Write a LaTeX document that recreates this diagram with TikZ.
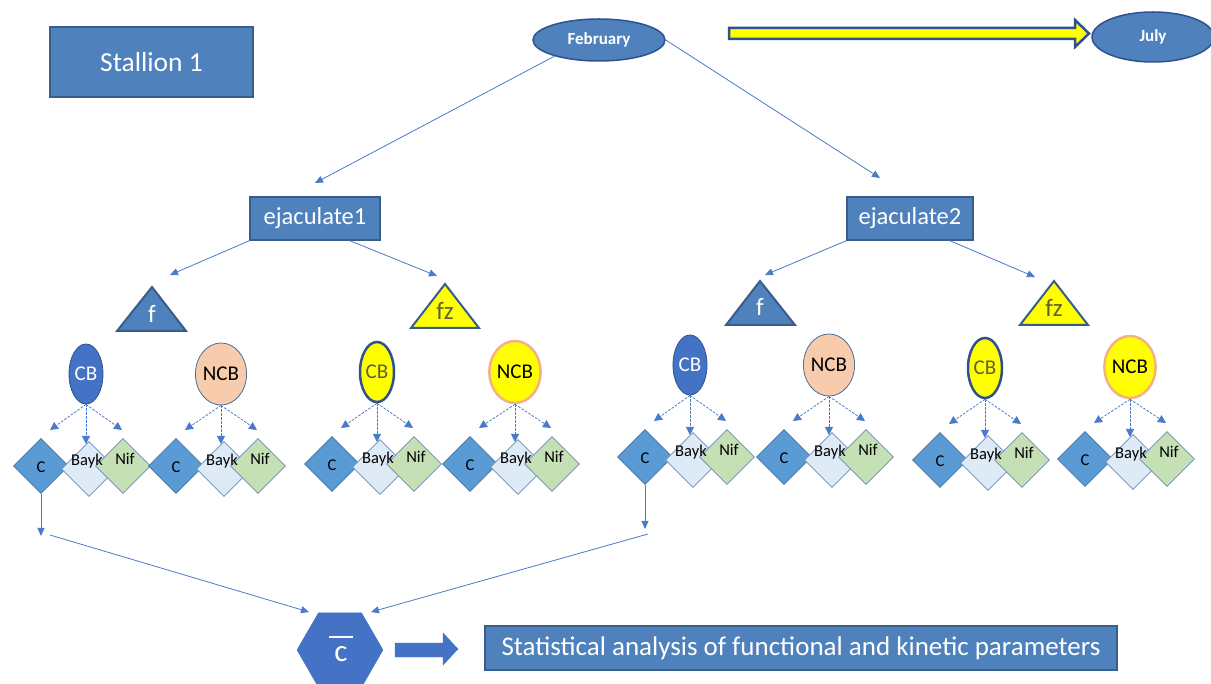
\documentclass[tikz,border=0pt]{standalone}
\usepackage{fontspec}
\setmainfont{Carlito}
\usetikzlibrary{shapes.geometric,arrows.meta}
\definecolor{boxblue}{HTML}{4F81BD}
\definecolor{boxborder}{HTML}{385D8A}
\definecolor{darkblue}{HTML}{2F528F}
\definecolor{cbblue}{HTML}{4472C4}
\definecolor{linecol}{HTML}{4A7BC8}
\definecolor{peach}{HTML}{F8CBAD}
\definecolor{peachline}{HTML}{F4B183}
\definecolor{cdia}{HTML}{5B9BD5}
\definecolor{cdialine}{HTML}{41719C}
\definecolor{bdia}{HTML}{DEEBF7}
\definecolor{ndia}{HTML}{C5E0B4}
\definecolor{dialine}{HTML}{6A8BB8}
\definecolor{olivetext}{HTML}{5F5F3A}
\definecolor{yel}{HTML}{FFFF00}
\begin{document}
\begin{tikzpicture}[x=1pt,y=-1pt,
  bigbox/.style={draw=boxborder,line width=1.5pt,fill=boxblue,text=white,inner sep=0pt},
  month/.style={ellipse,draw=darkblue,line width=1.5pt,fill=boxblue,text=white,font=\fontsize{17}{18}\selectfont\bfseries,minimum width=132pt,minimum height=42pt,inner sep=0pt},
  conn/.style={draw=linecol,line width=0.8pt,-{Triangle[length=8pt,width=7pt]}},
  dasharr/.style={draw=linecol,line width=0.8pt,dashed,dash pattern=on 2.5pt off 1.5pt,-{Triangle[length=8pt,width=8pt]}},
  ell/.style={ellipse,minimum width=34pt,minimum height=60pt,inner sep=0pt,font=\fontsize{21}{22}\selectfont},
  cb/.style={ell,fill=cbblue,draw=darkblue,line width=0.8pt,text=white},
  ncb/.style={ell,fill=peach,draw=cdialine,line width=0.8pt,text=black,minimum width=37pt,minimum height=62pt},
  ycb/.style={ell,fill=yel,draw=darkblue,line width=2.5pt,text=olivetext},
  yncb/.style={ell,fill=yel,draw=peachline,line width=2.5pt,text=black,minimum width=38pt,minimum height=62pt},
  dia/.style={diamond,aspect=1,minimum width=55pt,minimum height=55pt,inner sep=0pt,line width=0.8pt},
  dC/.style={dia,fill=cdia,draw=cdialine},
  dB/.style={dia,fill=bdia,draw=dialine},
  dN/.style={dia,fill=ndia,draw=dialine},
  dtext/.style={font=\fontsize{16.5}{17}\selectfont,text=black,inner sep=0pt},
  tri/.style={line width=2pt,draw=boxborder,line join=miter},
  tritext/.style={font=\fontsize{25}{26}\selectfont,inner sep=0pt}
]
\useasboundingbox[fill=white] (0,0) rectangle (1211,684);

% top boxes
\node[bigbox,minimum width=203pt,minimum height=70pt,font=\fontsize{27.5}{28}\selectfont] (stallion) at (151.5,62) {Stallion 1};
\node[month] (feb) at (599,40) {February};
\node[month,minimum width=122pt,minimum height=50pt] (jul) at (1153,37) {July};

% yellow block arrow
\draw[fill=yel,draw=darkblue,line width=2.5pt,line join=miter] (729,28) -- (1075,28) -- (1075,20) -- (1089,33.5) -- (1075,47) -- (1075,39) -- (729,39) -- cycle;

% ejaculate boxes
\node[bigbox,minimum width=130pt,minimum height=43pt,font=\fontsize{24.5}{25}\selectfont] (ej1) at (315,218.5) {ejaculate1};
\node[bigbox,minimum width=126pt,minimum height=43pt,font=\fontsize{24.5}{25}\selectfont] (ej2) at (910,218.5) {ejaculate2};

\coordinate (a1) at (315,183);
\coordinate (a2) at (880,178);
\draw[conn] (feb.200) -- (a1);
\draw[conn] (feb.east) -- (a2);

\coordinate (f1a) at (170,275);
\coordinate (f1b) at (437,276);
\coordinate (f2a) at (765,275);
\coordinate (f2b) at (1035,277);
\draw[conn] (ej1.south west) -- (f1a);
\draw[conn] ([xshift=35pt]ej1.south) -- (f1b);
\draw[conn] (ej2.south west) -- (f2a);
\draw[conn] ([xshift=40pt]ej2.south) -- (f2b);

% triangles
\draw[tri,fill=boxblue] (117,331) -- (152,287) -- (186,331) -- cycle;
\node[tritext,text=white] (tf1) at (152,314) {f};
\draw[tri,fill=yel] (411,328) -- (445,284) -- (479,328) -- cycle;
\node[tritext,text=olivetext] (tz1) at (445,311) {fz};
\draw[tri,fill=boxblue] (726,325) -- (760,281) -- (795,325) -- cycle;
\node[tritext,text=white] (tf2) at (760,307) {f};
\draw[tri,fill=yel] (1020,325) -- (1054,281) -- (1088,325) -- cycle;
\node[tritext,text=olivetext] (tz2) at (1054,308) {fz};

% groups
\foreach \i/\ex/\ey/\kind/\lab in {1/86/374/cb/CB,2/221/374/ncb/NCB,3/377/372/ycb/CB,4/515/372/yncb/NCB,5/690/365/cb/CB,6/829/365/ncb/NCB,7/985/368/ycb/CB,8/1130/367/yncb/NCB}{
  \node[\kind] (e\i) at (\ex,\ey) {\lab};
  \coordinate (l\i) at (\ex-36,\ey+56);
  \coordinate (m\i) at (\ex,\ey+70);
  \coordinate (r\i) at (\ex+36,\ey+56);
  \draw[dasharr] (e\i.south) -- (l\i);
  \draw[dasharr] (e\i.south) -- (m\i);
  \draw[dasharr] (e\i.south) -- (r\i);
  \node[dC] (c\i) at (\ex-45,\ey+92) {};
  \node[dB] (b\i) at (\ex+3,\ey+95) {};
  \node[dN] (n\i) at (\ex+37,\ey+92) {};
  \node[dtext] (tc\i) at (\ex-45,\ey+93) {C};
  \node[dtext] (tb\i) at (\ex+1,\ey+87) {Bayk};
  \node[dtext] (tn\i) at (\ex+39,\ey+85) {Nif};
}

% bottom
\node[regular polygon,regular polygon sides=6,minimum size=86pt,inner sep=0pt,fill=cbblue,draw=cbblue] (hex) at (340,650) {};
\node[text=white,font=\fontsize{31}{32}\selectfont,inner sep=0pt] (cbar) at (341,654) {c};
\draw[white,line width=2.2pt] (329,637) -- (353,637);

\coordinate (d1) at (c1.south |- 0,536);
\coordinate (d5) at (c5.south |- 0,529);
\draw[conn] (c1.south) -- (d1);
\draw[conn] (c5.south) -- (d5);
\coordinate (s1) at (50,535);
\coordinate (s5) at (648,534);
\coordinate (h1) at (309,612);
\coordinate (h5) at (371,612);
\draw[conn] (s1) -- (h1);
\draw[conn] (s5) -- (h5);

\draw[fill=cbblue,draw=cbblue] (395,643) -- (443,643) -- (443,633) -- (458,649) -- (443,665) -- (443,657) -- (395,657) -- cycle;

\node[bigbox,minimum width=632pt,minimum height=44pt,font=\fontsize{27}{28}\selectfont] (stat) at (801,648) {Statistical analysis of functional and kinetic parameters};
\end{tikzpicture}
\end{document}
